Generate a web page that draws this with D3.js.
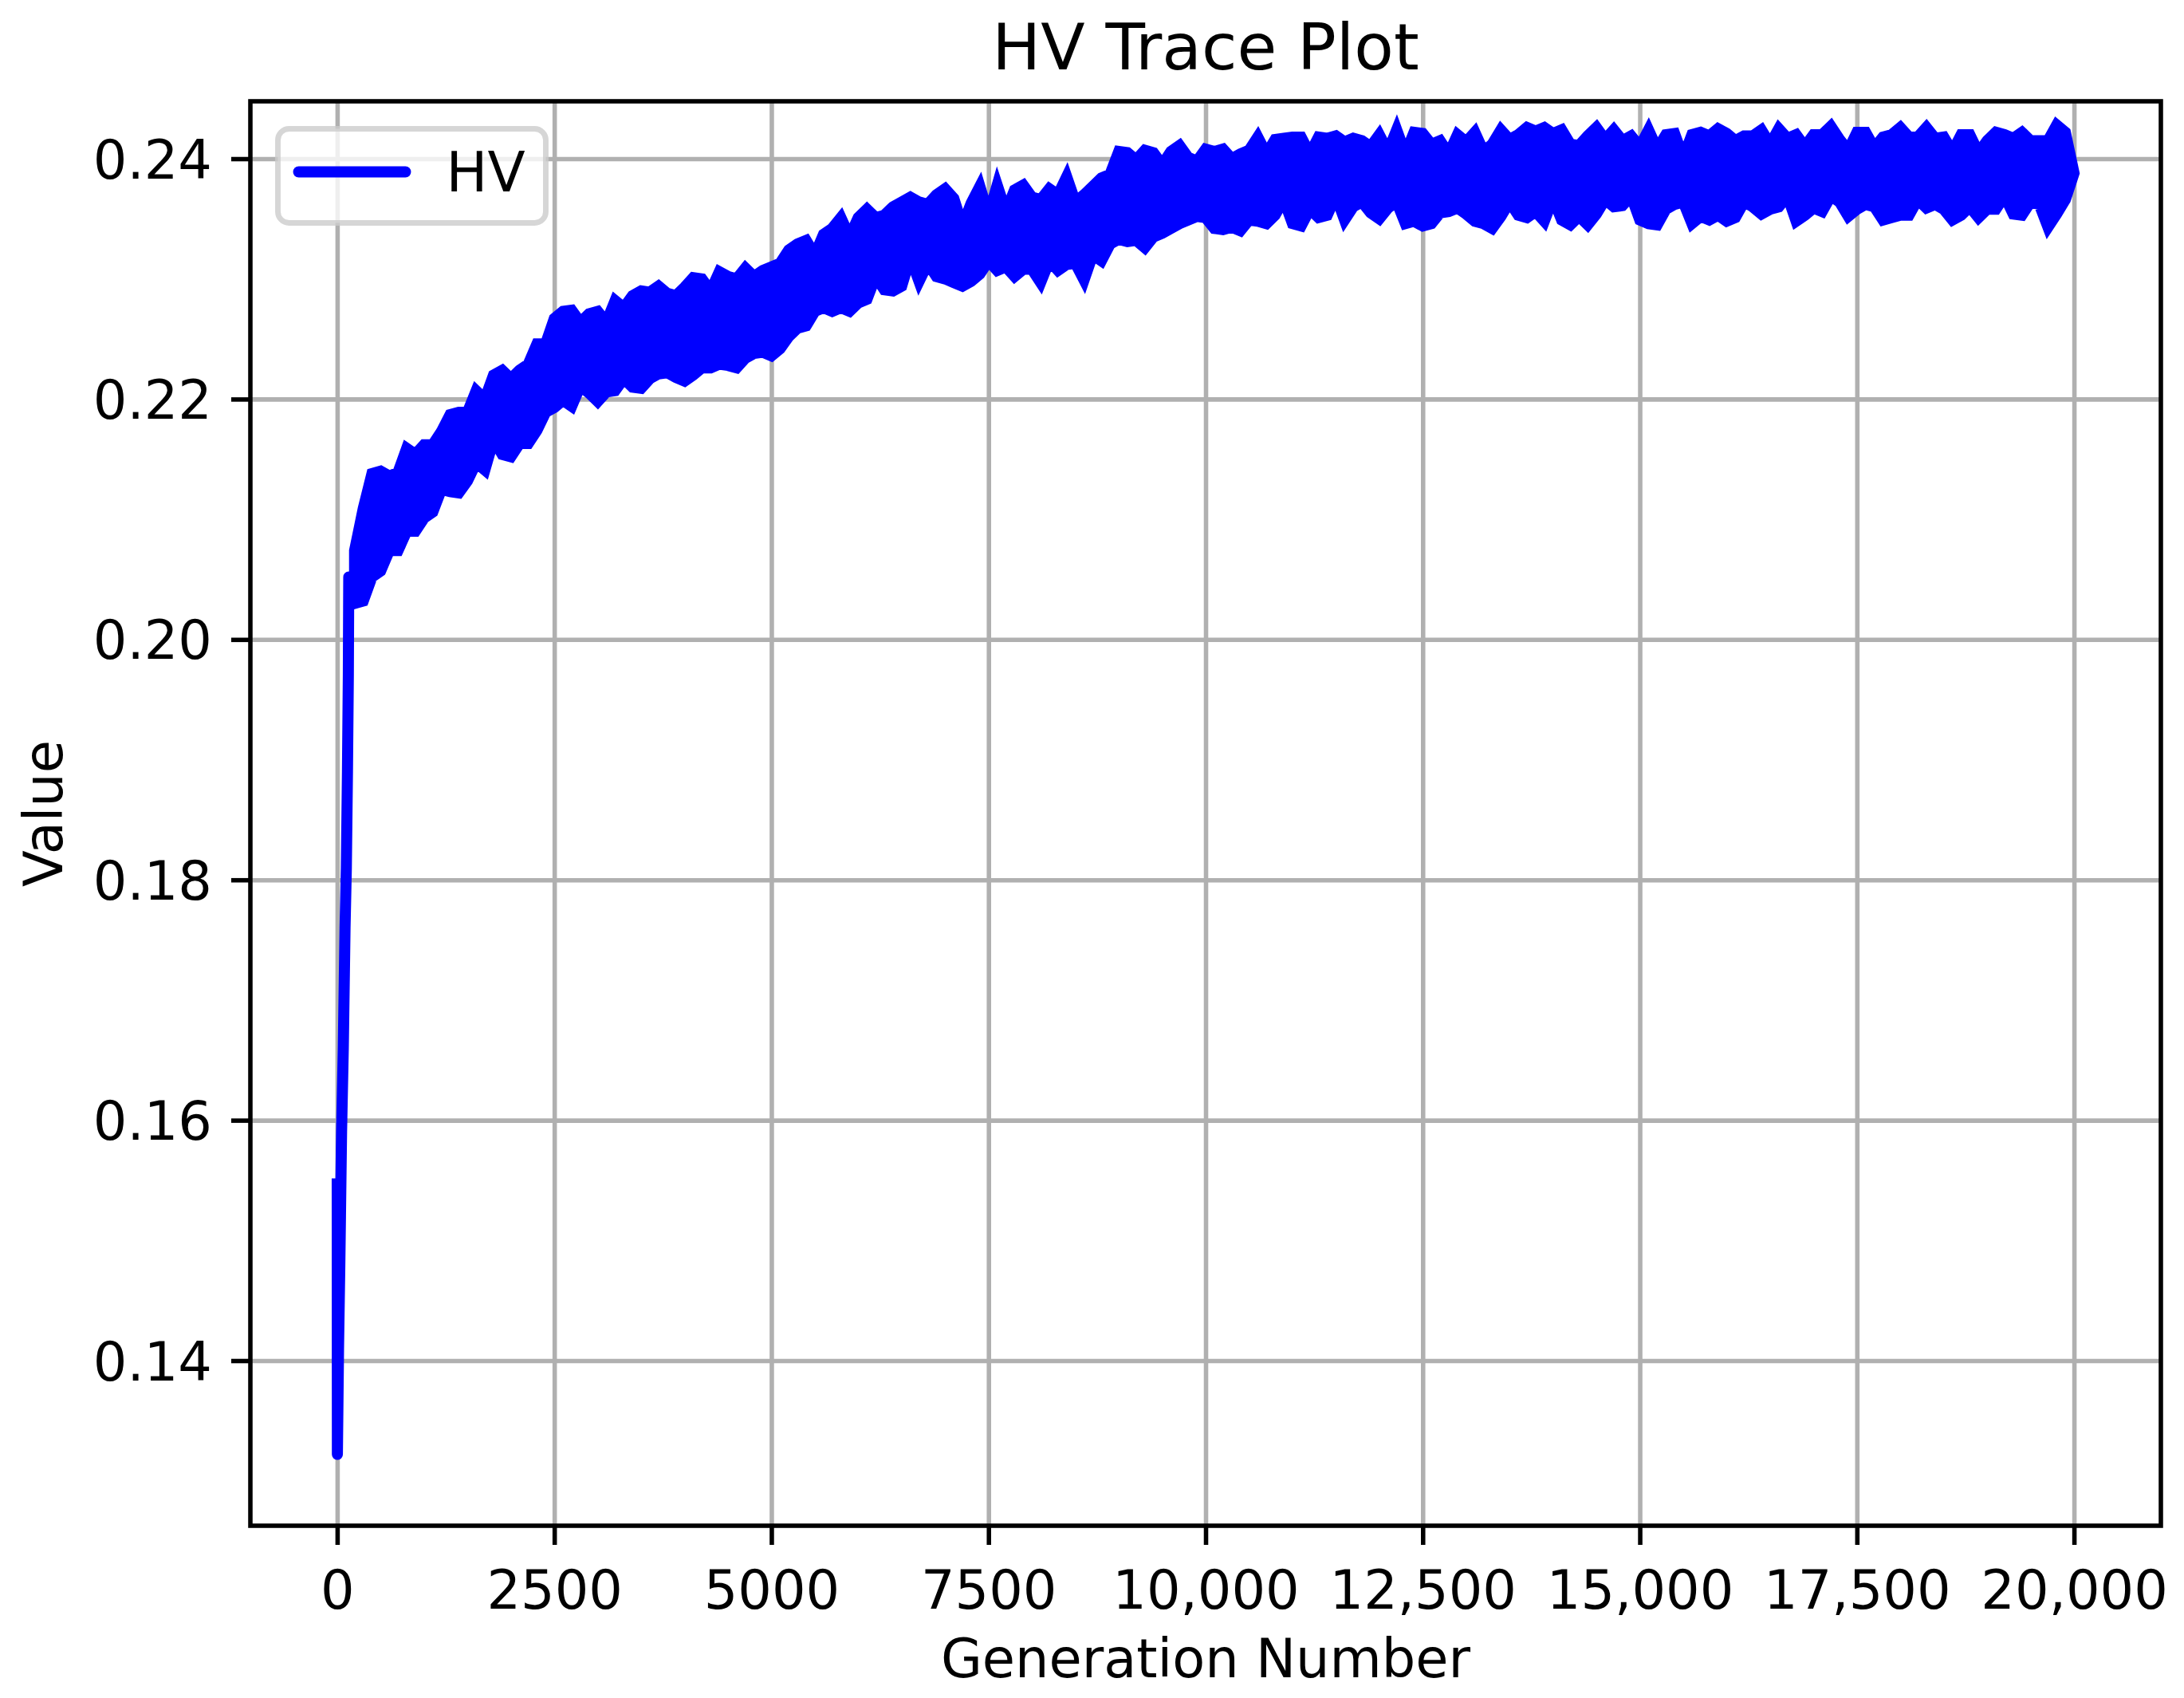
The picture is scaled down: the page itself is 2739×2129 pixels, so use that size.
<!DOCTYPE html>
<html lang="en">
<head>
    <meta charset="utf-8">
    <title>HV Trace Plot</title>
    <script type="text/javascript" src="https://d3js.org/d3.v7.min.js"></script>
    <style>
        body { margin: 0; background: #fff; }
        text { font-family: "DejaVu Sans", sans-serif; fill: #000; }
    </style>
</head>
<body>
    <div id="chart"></div>
    <script>
        // steep start of the run (generation, HV)
        var rampGen = [0, 2, 15, 30, 50, 70, 90, 105, 118, 128, 133, 165, 200];
        var rampValue = [0.1547, 0.1322, 0.1410, 0.1480, 0.1590, 0.1660, 0.1760, 0.1810, 0.1890, 0.1970, 0.2052, 0.2030, 0.2050];

        // noisy part: upper and lower edge of the trace, every 100 generations from 200 to 20000
        var bandGen = d3.range(200, 20001, 100);
        var bandHigh = [
            0.2074, 0.2109, 0.2138, 0.2140, 0.2136, 0.2139, 0.2159, 0.2154, 0.2162, 0.2162,
            0.2173, 0.2187, 0.2189, 0.2189, 0.2207, 0.2200, 0.2220, 0.2224, 0.2217, 0.2224,
            0.2229, 0.2246, 0.2246, 0.2267, 0.2273, 0.2274, 0.2264, 0.2271, 0.2273, 0.2264,
            0.2282, 0.2276, 0.2286, 0.2290, 0.2289, 0.2294, 0.2288, 0.2286, 0.2293, 0.2301,
            0.2300, 0.2290, 0.2306, 0.2302, 0.2300, 0.2309, 0.2302, 0.2307, 0.2310, 0.2313,
            0.2324, 0.2329, 0.2332, 0.2320, 0.2337, 0.2342, 0.2351, 0.2335, 0.2351, 0.2358,
            0.2351, 0.2353, 0.2360, 0.2364, 0.2368, 0.2364, 0.2362, 0.2370, 0.2375, 0.2367,
            0.2344, 0.2363, 0.2377, 0.2353, 0.2378, 0.2356, 0.2374, 0.2378, 0.2368, 0.2366,
            0.2375, 0.2370, 0.2385, 0.2364, 0.2370, 0.2377, 0.2384, 0.2387, 0.2406, 0.2405,
            0.2399, 0.2407,
            0.2405, 0.2395, 0.2406, 0.2411, 0.2401, 0.2398, 0.2408, 0.2406, 0.2408, 0.2400,
            0.2404, 0.2407, 0.2418, 0.2404, 0.2416, 0.2417, 0.2418, 0.2418, 0.2404, 0.2418,
            0.2417, 0.2419, 0.2414, 0.2417, 0.2415, 0.2410, 0.2420, 0.2406, 0.2424, 0.2404,
            0.2422, 0.2421, 0.2412, 0.2415, 0.2404, 0.2420, 0.2414, 0.2422, 0.2406, 0.2412,
            0.2424, 0.2416, 0.2420, 0.2426, 0.2423, 0.2426, 0.2421, 0.2424,
            0.2412, 0.2411, 0.2419, 0.2426, 0.2416, 0.2424, 0.2415, 0.2419, 0.2410, 0.2424,
            0.2408, 0.2420, 0.2421, 0.2401, 0.2420, 0.2422, 0.2419, 0.2425, 0.2421, 0.2415,
            0.2419, 0.2419, 0.2424, 0.2412, 0.2425, 0.2417, 0.2420, 0.2410, 0.2420, 0.2420,
            0.2427, 0.2416, 0.2407, 0.2422, 0.2422, 0.2409, 0.2418, 0.2420, 0.2426, 0.2418,
            0.2418, 0.2426, 0.2417, 0.2418, 0.2406, 0.2420, 0.2420, 0.2405, 0.2415, 0.2422,
            0.2420, 0.2417, 0.2422, 0.2415, 0.2415, 0.2415, 0.2428, 0.2422,
            0.2388
        ];
        var bandLow = [
            0.2030, 0.2032, 0.2052, 0.2057, 0.2074, 0.2074, 0.2090, 0.2090, 0.2101, 0.2106,
            0.2125, 0.2123, 0.2122, 0.2132, 0.2147, 0.2141, 0.2166, 0.2154, 0.2152, 0.2163,
            0.2163, 0.2174, 0.2189, 0.2193, 0.2199, 0.2194, 0.2211, 0.2205, 0.2198, 0.2206,
            0.2207, 0.2217, 0.2210, 0.2209, 0.2217, 0.2221, 0.2222, 0.2218, 0.2215, 0.2220,
            0.2226, 0.2226, 0.2229, 0.2228, 0.2226, 0.2234, 0.2238, 0.2239, 0.2236, 0.2242,
            0.2252, 0.2259, 0.2261, 0.2273, 0.2276, 0.2273, 0.2276, 0.2273, 0.2280, 0.2283,
            0.2302, 0.2291, 0.2290, 0.2294, 0.2318, 0.2298, 0.2313, 0.2302, 0.2300, 0.2297,
            0.2294, 0.2298, 0.2304, 0.2315, 0.2307, 0.2310, 0.2302, 0.2308, 0.2308, 0.2297,
            0.2315, 0.2307, 0.2312, 0.2313, 0.2299, 0.2320, 0.2315, 0.2329, 0.2333, 0.2331,
            0.2332, 0.2326,
            0.2335, 0.2338, 0.2342, 0.2346, 0.2349, 0.2352, 0.2351, 0.2342, 0.2341, 0.2343,
            0.2340, 0.2349, 0.2348, 0.2346, 0.2353, 0.2366, 0.2346, 0.2344, 0.2358, 0.2351,
            0.2353, 0.2369, 0.2349, 0.2360, 0.2364, 0.2355, 0.2350, 0.2359, 0.2364, 0.2346,
            0.2348, 0.2344, 0.2346, 0.2355, 0.2356, 0.2359, 0.2354, 0.2348, 0.2346, 0.2342,
            0.2352, 0.2364, 0.2353, 0.2351, 0.2356, 0.2348, 0.2367, 0.2349,
            0.2345, 0.2352, 0.2345, 0.2354, 0.2366, 0.2360, 0.2361, 0.2369, 0.2349, 0.2346,
            0.2345, 0.2358, 0.2362, 0.2364, 0.2346, 0.2352, 0.2349, 0.2353, 0.2348, 0.2351,
            0.2364, 0.2360, 0.2354, 0.2358, 0.2360, 0.2369, 0.2348, 0.2353, 0.2359, 0.2356,
            0.2369, 0.2364, 0.2352, 0.2358, 0.2362, 0.2360, 0.2349, 0.2351, 0.2353, 0.2353,
            0.2366, 0.2359, 0.2362, 0.2358, 0.2349, 0.2353, 0.2360, 0.2351, 0.2358, 0.2358,
            0.2369, 0.2354, 0.2353, 0.2364, 0.2362, 0.2343, 0.2354, 0.2366,
            0.2388
        ];

        var xTicks = [0, 2500, 5000, 7500, 10000, 12500, 15000, 17500, 20000];
        var yTicks = [0.14, 0.16, 0.18, 0.20, 0.22, 0.24];
        var xLimits = [-1000, 21000];
        var yLimits = [0.126264, 0.244778];

        // canvas size
        var W = 2739, H = 2129;
        var margin = { top: 127, right: 29, bottom: 216, left: 314 };
        var width = W - margin.left - margin.right;
        var height = H - margin.top - margin.bottom;
        var thin = 5.56;      // 0.8pt
        var lineW = 13.9;     // 2pt
        var fontSize = 67;
        var blue = "#0000ff";

        var svg = d3.select("#chart").append("svg")
            .attr("width", W)
            .attr("height", H);
        svg.append("rect").attr("width", W).attr("height", H).attr("fill", "#fff");

        var g = svg.append("g")
            .attr("transform", "translate(" + margin.left + "," + margin.top + ")");

        var x = d3.scaleLinear().domain(xLimits).range([0, width]);
        var y = d3.scaleLinear().domain(yLimits).range([height, 0]);

        // grid
        g.append("g")
            .attr("transform", "translate(0," + height + ")")
            .call(d3.axisBottom(x).tickValues(xTicks).tickSize(-height).tickFormat(""))
            .call(function(s) {
                s.select(".domain").remove();
                s.selectAll("line").attr("stroke", "#b0b0b0").attr("stroke-width", thin);
            });
        g.append("g")
            .call(d3.axisLeft(y).tickValues(yTicks).tickSize(-width).tickFormat(""))
            .call(function(s) {
                s.select(".domain").remove();
                s.selectAll("line").attr("stroke", "#b0b0b0").attr("stroke-width", thin);
            });

        // noisy band
        var bandRows = bandGen.map(function(gen, i) {
            return { gen: gen, high: bandHigh[i], low: bandLow[i] };
        });
        var area = d3.area()
            .x(function(d) { return x(d.gen); })
            .y0(function(d) { return y(d.low); })
            .y1(function(d) { return y(d.high); });
        g.append("path")
            .datum(bandRows)
            .attr("d", area)
            .attr("fill", blue)
            .attr("stroke", blue)
            .attr("stroke-width", lineW)
            .attr("stroke-linejoin", "miter");

        // ramp
        var rampRows = rampGen.map(function(gen, i) { return { gen: gen, value: rampValue[i] }; });
        var line = d3.line()
            .x(function(d) { return x(d.gen); })
            .y(function(d) { return y(d.value); });
        g.append("path")
            .datum(rampRows)
            .attr("d", line)
            .attr("fill", "none")
            .attr("stroke", blue)
            .attr("stroke-width", lineW)
            .attr("stroke-linecap", "square")
            .attr("stroke-linejoin", "round");

        // frame
        g.append("rect")
            .attr("width", width)
            .attr("height", height)
            .attr("fill", "none")
            .attr("stroke", "#000")
            .attr("stroke-width", thin);

        // x-axis
        var fmtGen = function(d) { return d >= 10000 ? d3.format(",")(d) : String(d); };
        g.append("g")
            .attr("transform", "translate(0," + height + ")")
            .call(d3.axisBottom(x).tickValues(xTicks).tickSize(24).tickFormat(fmtGen))
            .call(function(s) {
                s.select(".domain").remove();
                s.selectAll("line").attr("stroke", "#000").attr("stroke-width", thin);
                s.selectAll("text")
                    .attr("y", 104).attr("dy", null)
                    .attr("font-size", fontSize)
                    .attr("font-family", "DejaVu Sans");
            });

        // y-axis
        g.append("g")
            .call(d3.axisLeft(y).tickValues(yTicks).tickSize(24).tickFormat(d3.format(".2f")))
            .call(function(s) {
                s.select(".domain").remove();
                s.selectAll("line").attr("stroke", "#000").attr("stroke-width", thin);
                s.selectAll("text")
                    .attr("x", -48).attr("dy", "0.36em")
                    .attr("font-size", fontSize)
                    .attr("font-family", "DejaVu Sans");
            });

        // labels
        g.append("text")
            .attr("x", width / 2)
            .attr("y", -40)
            .attr("text-anchor", "middle")
            .style("font-size", "81px")
            .text("HV Trace Plot");

        g.append("text")
            .attr("x", width / 2)
            .attr("y", height + 190)
            .attr("text-anchor", "middle")
            .style("font-size", fontSize + "px")
            .text("Generation Number");

        g.append("text")
            .attr("transform", "translate(-236," + (height / 2) + ") rotate(-90)")
            .attr("text-anchor", "middle")
            .style("font-size", fontSize + "px")
            .text("Value");

        // legend
        var legend = g.append("g").attr("transform", "translate(34.5,34.5)");
        legend.append("rect")
            .attr("width", 336)
            .attr("height", 118)
            .attr("rx", 14)
            .attr("fill", "#fff")
            .attr("fill-opacity", 0.8)
            .attr("stroke", "#cccccc")
            .attr("stroke-opacity", 0.8)
            .attr("stroke-width", 6.9);
        legend.append("line")
            .attr("x1", 26).attr("x2", 160)
            .attr("y1", 54).attr("y2", 54)
            .attr("stroke", blue)
            .attr("stroke-width", lineW)
            .attr("stroke-linecap", "round");
        legend.append("text")
            .attr("x", 211)
            .attr("y", 78.5)
            .style("font-size", "69px")
            .text("HV");
    </script>
</body>
</html>
